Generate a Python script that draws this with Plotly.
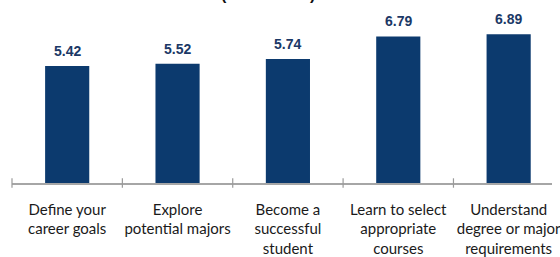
import plotly.graph_objects as go

categories = [
    "Define your<br>career goals",
    "Explore<br>potential majors",
    "Become a<br>successful<br>student",
    "Learn to select<br>appropriate<br>courses",
    "Understand<br>degree or major<br>requirements",
]
values = [5.42, 5.52, 5.74, 6.79, 6.89]
title_text = "(Scale: 1-10)"

BAR = "#0c3a6e"
LABEL = "#1b3866"

W, H = 560, 257
ml, mr, mt, mb = 12, 0, 18, 64
plot_w = W - ml - mr
cat_px = 112.0
x_min = -0.5
x_max = x_min + plot_w / cat_px
plot_h = H - mt - mb
y_max = plot_h / 22.9

xs = list(range(len(categories)))

fig = go.Figure()
fig.add_trace(go.Bar(x=xs, y=values, marker=dict(color=BAR, line=dict(width=0)),
                     hoverinfo="skip"))

for x, v in zip(xs, values):
    fig.add_annotation(x=x, y=v, text=f"<b>{v:.2f}</b>", showarrow=False,
                       yanchor="bottom", yshift=5,
                       font=dict(family="Liberation Sans, Arial", size=14, color=LABEL))

# tick marks at category boundaries, crossing the axis line
for i in range(len(categories) + 1):
    b = i - 0.5
    if b <= x_max:
        px = (b - x_min) / (x_max - x_min)
        fig.add_shape(type="line", xref="paper", yref="paper", x0=px, x1=px,
                      y0=-5 / plot_h, y1=5 / plot_h,
                      line=dict(color="#9a9a9a", width=1.2))

fig.add_annotation(xref="x", yref="paper", x=(len(categories) - 1) / 2 - 0.18, y=1,
                   yanchor="bottom", yshift=mt - 5, showarrow=False,
                   text=f"<b>{title_text}</b>",
                   font=dict(family="Liberation Sans, Arial", size=16, color="#111111"))

fig.update_layout(
    width=W, height=H,
    margin=dict(l=ml, r=mr, t=mt, b=mb, pad=0),
    paper_bgcolor="white", plot_bgcolor="white",
    bargap=0.6,
    showlegend=False,
    xaxis=dict(range=[x_min, x_max], tickmode="array", tickvals=xs, ticktext=categories,
               ticks="outside", ticklen=8, tickcolor="rgba(0,0,0,0)",
               ticklabelstandoff=4,
               showgrid=False, zeroline=False,
               showline=True, linecolor="#a6a6a6", linewidth=1.5,
               ticklabeloverflow="allow",
               tickfont=dict(family="Lato, Liberation Sans", size=15, color="#1a1a1a")),
    yaxis=dict(range=[0, y_max], visible=False, showgrid=False, zeroline=False),
)

fig.write_html("out.html", config={"displayModeBar": False},
               post_script="document.body.style.margin='0';")
